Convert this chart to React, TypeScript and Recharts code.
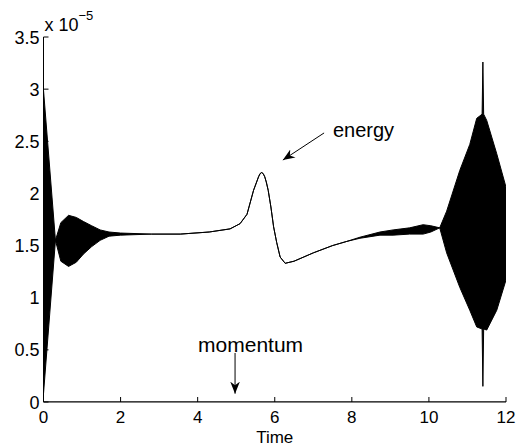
import { Area, ComposedChart, Line, ReferenceDot, ReferenceLine, XAxis, YAxis } from 'recharts';

// energy error envelope (units of 1e-5): where the trace oscillates fast it
// reads as a filled band, so it is kept as lower/upper edges per time sample
const TIME = [
  0, 0.31, 0.45, 0.65, 0.85, 1.04, 1.25, 1.47, 1.7, 2.0, 2.8, 3.55, 4.3, 4.84, 5.1, 5.28, 5.45,
  5.52, 5.58, 5.62, 5.66, 5.7, 5.74, 5.78, 5.83, 5.9, 5.97, 6.05, 6.14, 6.27, 6.5, 7.0, 7.5, 7.87,
  8.21, 8.73, 9.07, 9.5, 9.85, 10.05, 10.28, 10.46, 10.8, 11.06, 11.24, 11.38, 11.4, 11.42, 11.5,
  11.76, 12,
];
const UPPER = [
  2.99, 1.55, 1.72, 1.79, 1.77, 1.73, 1.69, 1.65, 1.63, 1.62, 1.61, 1.61, 1.63, 1.66, 1.71, 1.8,
  2.03, 2.1, 2.16, 2.19, 2.2, 2.19, 2.16, 2.11, 2.03, 1.87, 1.68, 1.53, 1.39, 1.33, 1.35, 1.43, 1.5,
  1.54, 1.58, 1.63, 1.65, 1.67, 1.7, 1.69, 1.67, 1.83, 2.22, 2.47, 2.72, 2.76, 3.26, 2.76, 2.7, 2.38,
  2.06,
];
const LOWER = [
  0.08, 1.55, 1.35, 1.3, 1.34, 1.42, 1.49, 1.55, 1.59, 1.6, 1.61, 1.61, 1.63, 1.66, 1.71, 1.8,
  2.03, 2.1, 2.16, 2.19, 2.2, 2.19, 2.16, 2.11, 2.03, 1.87, 1.68, 1.53, 1.39, 1.33, 1.35, 1.43, 1.5,
  1.54, 1.57, 1.6, 1.6, 1.61, 1.61, 1.63, 1.67, 1.43, 1.1, 0.88, 0.72, 0.7, 0.15, 0.7, 0.69, 0.88,
  1.17,
];

// momentum error stays on the zero line
const MOMENTUM_TIME = [0, 12];
const MOMENTUM = [0, 0];

const X_TICKS = [0, 2, 4, 6, 8, 10, 12];
const Y_TICKS = [0, 0.5, 1, 1.5, 2, 2.5, 3, 3.5];

const FONT = '"Liberation Sans", Arial, Helvetica, sans-serif';
const TICK_LEN = 5;

const energyData = TIME.map((t, i) => ({ t, band: [LOWER[i], UPPER[i]] }));
const momentumData = MOMENTUM_TIME.map((t, i) => ({ t, m: MOMENTUM[i] }));

const fmt = (v: number) => String(v);

function BottomTick({ x, y, payload }: any) {
  return (
    <g>
      <line x1={x} x2={x} y1={y} y2={y - TICK_LEN} stroke="#000" />
      <text x={x} y={y + 21} textAnchor="middle" fontSize={17} fontFamily={FONT} fill="#000">
        {fmt(payload.value)}
      </text>
    </g>
  );
}

function TopTick({ x, y }: any) {
  return <line x1={x} x2={x} y1={y} y2={y + TICK_LEN} stroke="#000" />;
}

function LeftTick({ x, y, payload }: any) {
  return (
    <g>
      <line x1={x} x2={x + TICK_LEN} y1={y} y2={y} stroke="#000" />
      <text x={x - 4} y={y + 6.5} textAnchor="end" fontSize={18} fontFamily={FONT} fill="#000">
        {fmt(payload.value)}
      </text>
    </g>
  );
}

function RightTick({ x, y }: any) {
  return <line x1={x} x2={x - TICK_LEN} y1={y} y2={y} stroke="#000" />;
}

export default function App() {
  return (
    <div style={{ position: 'fixed', left: 0, top: 0, background: '#fff' }}>
      <svg width={0} height={0} style={{ position: 'absolute' }}>
        <defs>
          <marker
            id="arrowhead"
            viewBox="0 0 10 10"
            refX="10"
            refY="5"
            markerUnits="userSpaceOnUse"
            markerWidth="12"
            markerHeight="12"
            orient="auto"
          >
            <path d="M0,1 L10,5 L0,9 L3,5 Z" fill="#000" />
          </marker>
        </defs>
      </svg>
      <ComposedChart width={519} height={446} margin={{ top: 37, right: 13, bottom: 0, left: 0 }}>
        <XAxis
          type="number"
          dataKey="t"
          domain={[0, 12]}
          ticks={X_TICKS}
          interval={0}
          allowDataOverflow
          height={44}
          tickSize={0}
          tickMargin={0}
          tickLine={false}
          axisLine={{ stroke: '#000' }}
          tick={(p: any) => <BottomTick {...p} />}
          label={{ value: 'Time', position: 'insideBottom', offset: 3.5, fontSize: 17, fontFamily: FONT, fill: '#000' }}
        />
        <XAxis
          xAxisId="top"
          orientation="top"
          type="number"
          domain={[0, 12]}
          ticks={X_TICKS}
          interval={0}
          height={0}
          tickSize={0}
          tickMargin={0}
          tickLine={false}
          axisLine={{ stroke: '#000' }}
          tick={(p: any) => <TopTick {...p} />}
        />
        <YAxis
          type="number"
          domain={[0, 3.5]}
          ticks={Y_TICKS}
          interval={0}
          allowDataOverflow
          width={43.5}
          tickSize={0}
          tickMargin={0}
          tickLine={false}
          axisLine={{ stroke: '#000' }}
          tick={(p: any) => <LeftTick {...p} />}
        />
        <YAxis
          yAxisId="right"
          orientation="right"
          type="number"
          domain={[0, 3.5]}
          ticks={Y_TICKS}
          interval={0}
          width={0}
          tickSize={0}
          tickMargin={0}
          tickLine={false}
          axisLine={{ stroke: '#000' }}
          tick={(p: any) => <RightTick {...p} />}
        />
        <Area
          data={energyData}
          dataKey="band"
          type="linear"
          fill="#000"
          fillOpacity={1}
          stroke="#000"
          strokeWidth={1}
          isAnimationActive={false}
        />
        <Line
          data={momentumData}
          dataKey="m"
          type="linear"
          stroke="#000"
          strokeWidth={1}
          dot={false}
          isAnimationActive={false}
        />
        <ReferenceLine
          segment={[
            { x: 7.28, y: 2.58 },
            { x: 6.21, y: 2.32 },
          ]}
          stroke="#000"
          strokeWidth={1}
          markerEnd="url(#arrowhead)"
        />
        <ReferenceLine
          segment={[
            { x: 4.97, y: 0.47 },
            { x: 4.97, y: 0.08 },
          ]}
          stroke="#000"
          strokeWidth={1}
          markerEnd="url(#arrowhead)"
        />
        <ReferenceDot
          x={7.51}
          y={2.54}
          r={0}
          shape={(p: any) => (
            <text x={p.cx} y={p.cy} fontSize={20} fontFamily={FONT} fill="#000">
              energy
            </text>
          )}
        />
        <ReferenceDot
          x={4.01}
          y={0.48}
          r={0}
          shape={(p: any) => (
            <text x={p.cx} y={p.cy} fontSize={21} fontFamily={FONT} fill="#000">
              momentum
            </text>
          )}
        />
        <ReferenceDot
          x={0}
          y={3.5}
          r={0}
          ifOverflow="visible"
          shape={(p: any) => (
            <text x={p.cx + 1} y={p.cy - 6} fontSize={18} fontFamily={FONT} fill="#000">
              x 10
              <tspan dy={-11} fontSize={13}>
                −5
              </tspan>
            </text>
          )}
        />
      </ComposedChart>
    </div>
  );
}
